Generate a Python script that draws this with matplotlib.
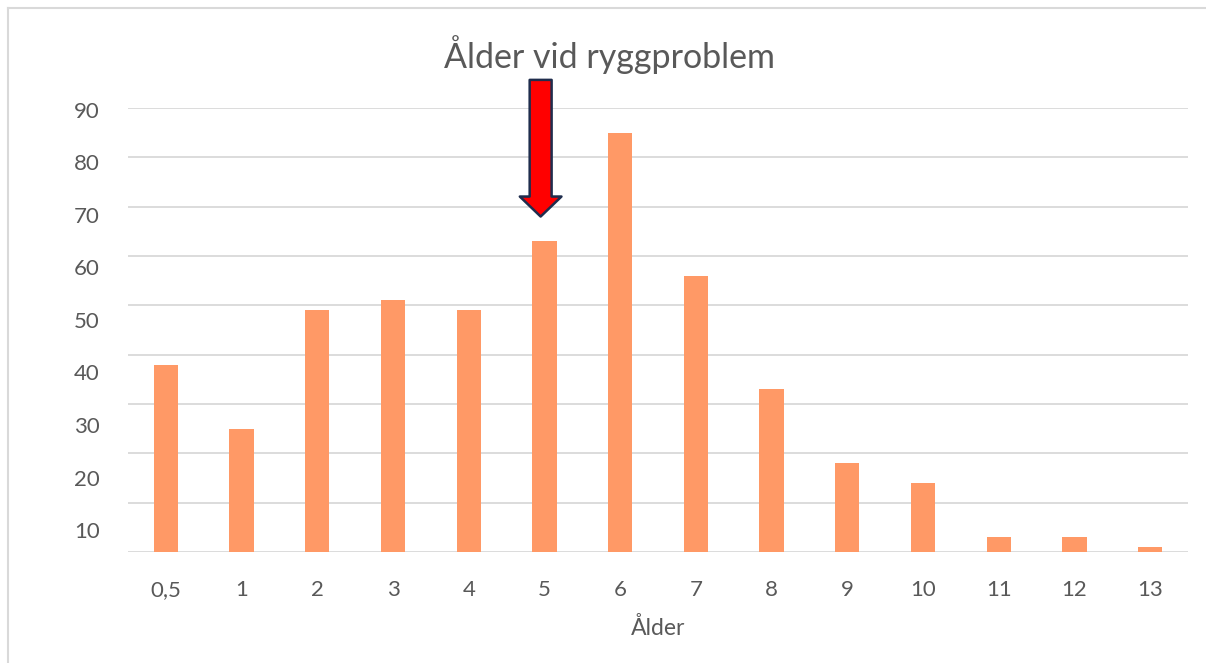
import numpy as np
import matplotlib.pyplot as plt
from matplotlib.lines import Line2D

plt.rcParams['font.family'] = ['Lato', 'DejaVu Sans']

# data
ages = ['0,5', '1', '2', '3', '4', '5', '6', '7', '8', '9', '10', '11', '12', '13']
counts = [38, 25, 49, 51, 49, 63, 85, 56, 33, 18, 14, 3, 3, 1]
yticks = [10, 20, 30, 40, 50, 60, 70, 80, 90]
arrow_at = '5'

grey = '#595959'
grid = '#d9d9d9'

fig = plt.figure(figsize=(12.06, 6.63), dpi=100)
ax = fig.add_axes([128 / 1206, 1 - 552 / 663, 1060 / 1206, 444 / 663])

x = np.arange(len(ages))
ax.bar(x, counts, width=0.32, color='#ff9966', zorder=3)
ax.set_xlim(-0.5, len(ages) - 0.5)
ax.set_ylim(0, 90)
ax.set_xticks(x)
ax.set_xticklabels(ages)
ax.set_yticks([0] + yticks)
ax.tick_params(axis='y', left=False, labelleft=False)
ax.tick_params(axis='x', bottom=False, pad=17, labelsize=16, labelcolor=grey)
ax.grid(axis='y', color=grid, lw=1.3, zorder=0)
for s in ax.spines.values():
    s.set_visible(False)
ax.set_xlabel('Ålder', fontsize=16.5, color=grey, labelpad=12)

# y labels sit a little off the gridlines in the original screenshot
lab = fig.add_axes(ax.get_position(), frameon=False)
lab.set_ylim(5.81, 90.38)
lab.set_yticks(yticks)
lab.set_xticks([])
lab.tick_params(axis='y', left=False, pad=17, labelsize=16, labelcolor=grey)
lab.patch.set_visible(False)

fig.text(610 / 1206, 1 - 55 / 663, 'Ålder vid ryggproblem', ha='center', va='center',
         fontsize=24.5, color=grey)

# red arrow pointing at age 5
xi = ages.index(arrow_at) - 0.05
ax.annotate('', xy=(xi, 68), xytext=(xi, 95.7), annotation_clip=False,
            arrowprops=dict(arrowstyle='simple,head_length=1.44,head_width=3.0,tail_width=1.58',
                            fc='red', ec='#1f2d4d', lw=1.8, shrinkA=0, shrinkB=0), zorder=5)

# outer chart frame (cut off on the right and bottom)
fig.add_artist(Line2D([8 / 1206, 1.0], [1 - 8 / 663] * 2, color=grid, lw=1.5))
fig.add_artist(Line2D([8 / 1206] * 2, [0, 1 - 8 / 663], color=grid, lw=1.5))

fig.savefig('out.png', dpi=100)
